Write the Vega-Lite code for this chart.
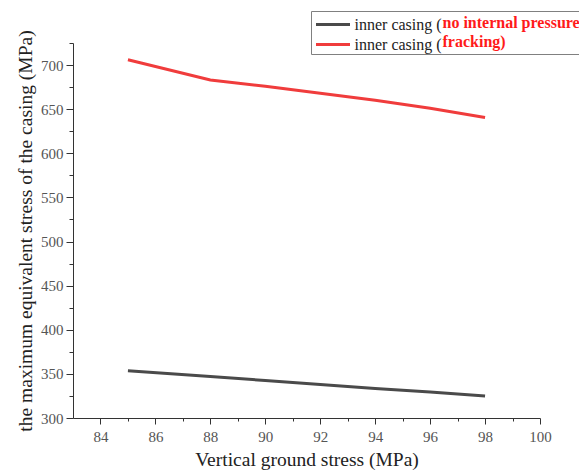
{
  "$schema": "https://vega.github.io/schema/vega-lite/v6.json",
  "width": 467,
  "height": 375,
  "autosize": {"type": "none"},
  "padding": {"left": 73, "top": 43, "right": 39, "bottom": 58},
  "background": "white",
  "config": {
    "view": {"stroke": null},
    "font": "Liberation Serif"
  },
  "data": {
    "values": [
      {"series": "no internal pressure", "condition": "no internal pressure", "stress": 85, "value": 353.5},
      {"series": "no internal pressure", "condition": "no internal pressure", "stress": 88, "value": 347},
      {"series": "no internal pressure", "condition": "no internal pressure", "stress": 90, "value": 342.5},
      {"series": "no internal pressure", "condition": "no internal pressure", "stress": 92, "value": 338},
      {"series": "no internal pressure", "condition": "no internal pressure", "stress": 94, "value": 333.5},
      {"series": "no internal pressure", "condition": "no internal pressure", "stress": 96, "value": 329.5},
      {"series": "no internal pressure", "condition": "no internal pressure", "stress": 98, "value": 325},
      {"series": "fracking", "condition": "fracking", "stress": 85, "value": 706},
      {"series": "fracking", "condition": "fracking", "stress": 88, "value": 683},
      {"series": "fracking", "condition": "fracking", "stress": 90, "value": 676},
      {"series": "fracking", "condition": "fracking", "stress": 92, "value": 668},
      {"series": "fracking", "condition": "fracking", "stress": 94, "value": 660},
      {"series": "fracking", "condition": "fracking", "stress": 96, "value": 651},
      {"series": "fracking", "condition": "fracking", "stress": 98, "value": 640.5}
    ]
  },
  "mark": {"type": "line", "strokeWidth": 3, "strokeCap": "butt"},
  "encoding": {
    "x": {
      "field": "stress",
      "type": "quantitative",
      "scale": {"domain": [83, 100], "nice": false, "zero": false},
      "axis": {
        "title": "Vertical ground stress (MPa)",
        "values": [84, 85, 86, 87, 88, 89, 90, 91, 92, 93, 94, 95, 96, 97, 98, 99, 100],
        "labelExpr": "datum.value % 2 === 0 ? datum.label : ''",
        "tickSize": {"condition": {"test": "datum.value % 2 === 0", "value": 6}, "value": 3},
        "grid": false,
        "domainColor": "#333333",
        "tickColor": "#333333",
        "labelFont": "Liberation Serif",
        "labelFontSize": 15,
        "labelColor": "#555555",
        "labelPadding": 5,
        "labelFlush": false,
        "titleFont": "Liberation Serif",
        "titleFontSize": 19.5,
        "titleFontWeight": "normal",
        "titleColor": "#222222",
        "titlePadding": 6
      }
    },
    "y": {
      "field": "value",
      "type": "quantitative",
      "scale": {"domain": [300, 725], "nice": false, "zero": false},
      "axis": {
        "title": "the maximum equivalent stress of the casing (MPa)",
        "values": [300, 325, 350, 375, 400, 425, 450, 475, 500, 525, 550, 575, 600, 625, 650, 675, 700, 725],
        "labelExpr": "datum.value % 50 === 0 ? datum.label : ''",
        "tickSize": {"condition": {"test": "datum.value % 50 === 0", "value": 7}, "value": 4},
        "grid": false,
        "domainColor": "#333333",
        "tickColor": "#333333",
        "labelFont": "Liberation Serif",
        "labelFontSize": 15,
        "labelColor": "#555555",
        "labelPadding": 3,
        "labelFlush": false,
        "titleFont": "Liberation Serif",
        "titleFontSize": 19.5,
        "titleFontWeight": "normal",
        "titleColor": "#222222",
        "titlePadding": 5
      }
    },
    "color": {
      "field": "series",
      "type": "nominal",
      "scale": {"domain": ["no internal pressure", "fracking"], "range": ["#4a4a4a", "#f03c3c"]},
      "legend": {
        "orient": "none",
        "legendX": 238,
        "legendY": -32,
        "title": null,
        "padding": 3.5,
        "rowPadding": 2,
        "symbolType": "M-1,0H3",
        "symbolSize": 289,
        "symbolStrokeWidth": 3,
        "labelExpr": "'inner casing ('",
        "labelFont": "Liberation Serif",
        "labelFontSize": 16,
        "labelColor": "#222222",
        "labelOffset": 20,
        "labelLimit": 400
      }
    },
    "opacity": {
      "field": "condition",
      "type": "nominal",
      "sort": ["no internal pressure", "fracking"],
      "scale": {"range": [1, 1]},
      "legend": {
        "orient": "none",
        "legendX": 238,
        "legendY": -32,
        "title": null,
        "padding": 3.5,
        "rowPadding": 2,
        "symbolType": "M-1,0H3",
        "symbolSize": 289,
        "symbolStrokeColor": "transparent",
        "symbolStrokeWidth": 0,
        "labelExpr": "datum.label + ')'",
        "labelFont": "Liberation Serif",
        "labelFontSize": 16,
        "labelFontWeight": "bold",
        "labelColor": "#ff1a1a",
        "labelOffset": 111,
        "labelLimit": 400,
        "strokeColor": "#808080"
      }
    }
  }
}
